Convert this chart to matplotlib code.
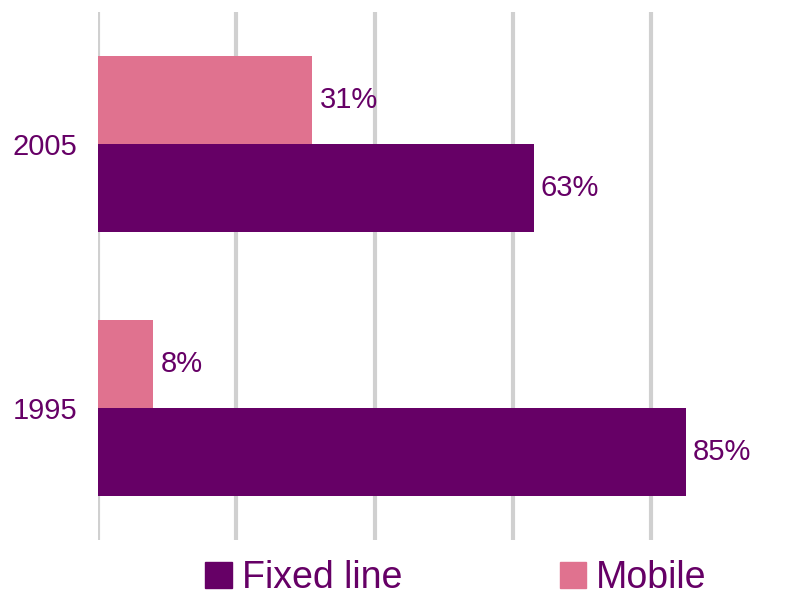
import matplotlib
matplotlib.use("Agg")
import matplotlib.pyplot as plt
from matplotlib.patches import Patch

years = ["1995", "2005"]
fixed_line = [85, 63]
mobile = [8, 31]
series_names = ["Fixed line", "Mobile"]
xticks = [0, 20, 40, 60, 80]

FIXED_C = "#660066"
MOBILE_C = "#E0728F"
TEXT_C = "#660066"

plt.rcParams['font.family'] = ['Liberation Sans', 'DejaVu Sans']

fig = plt.figure(figsize=(7.85, 5.96), dpi=100)
ax = fig.add_axes([98/785, 56/596, 1 - 98/785, 528/596])

h = 1/3
y = list(range(len(years)))
ax.barh([v - h/2 for v in y], fixed_line, height=h, color=FIXED_C, zorder=3)
ax.barh([v + h/2 for v in y], mobile, height=h, color=MOBILE_C, zorder=3)

for i, v in enumerate(fixed_line):
    ax.annotate(f"{v}%", (v, i - h/2), xytext=(5, 0), textcoords="offset points",
                va="center", ha="left", fontsize=21, color=TEXT_C)
for i, v in enumerate(mobile):
    ax.annotate(f"{v}%", (v, i + h/2), xytext=(5, 0), textcoords="offset points",
                va="center", ha="left", fontsize=21, color=TEXT_C)

ax.set_xlim(0, 99.3)
ax.set_ylim(-0.5, 1.5)
ax.set_xticks(xticks)
ax.set_xticklabels([])
ax.set_yticks(y)
ax.set_yticklabels(years, fontsize=21, color=TEXT_C)
ax.tick_params(axis="both", length=0)
ax.tick_params(axis="y", pad=15)
ax.grid(axis="x", color="#D0D0D0", linewidth=3, zorder=0)
for s in ax.spines.values():
    s.set_visible(False)

handles = [Patch(color=FIXED_C), Patch(color=MOBILE_C)]
leg = fig.legend(handles, series_names, loc="center", bbox_to_anchor=(456/785, 18/596),
                 ncol=2, frameon=False, fontsize=27, handlelength=0.7, handleheight=0.7,
                 handletextpad=0.27, columnspacing=4.2, borderpad=0.2)
for t in leg.get_texts():
    t.set_color(TEXT_C)

fig.savefig("out.png", dpi=100)
